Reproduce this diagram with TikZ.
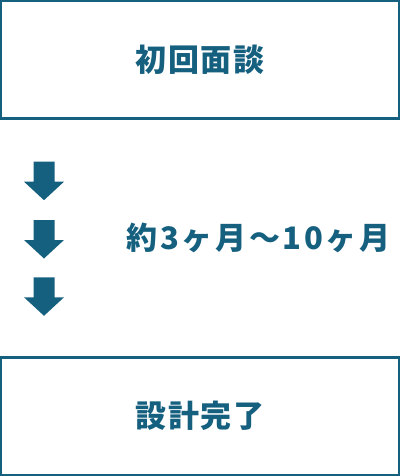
\documentclass[tikz,border=0pt]{standalone}
\usepackage{fontspec}
\newfontfamily\jp[LetterSpace=6]{Noto Sans CJK JP}
\newfontfamily\jpwide[LetterSpace=8.5]{Noto Sans CJK JP}
\definecolor{teal}{HTML}{16607F}
\begin{document}
\begin{tikzpicture}[x=1pt,y=-1pt,
  box/.style={draw=teal,line width=2.2pt,fill=white},
  lbl/.style={text=teal,font=\jp\bfseries\fontsize{31}{36}\selectfont,inner sep=0pt,anchor=center},
  widelbl/.style={lbl,font=\jpwide\bfseries\fontsize{31}{36}\selectfont},
  darrow/.style={fill=teal,draw=none}]
\useasboundingbox (0,0) rectangle (400,476);
\draw[box] (1.1,1.1) rectangle (398.9,118.5);
\node[lbl] (first) at (200,60) {初回面談};
\draw[box] (1.1,357.5) rectangle (398.9,474.9);
\node[lbl] (last) at (200,416) {設計完了};
\foreach \n/\y in {a1/161.7,a2/220,a3/277.3}{
  \fill[darrow] (33.5,\y) -- (54.5,\y) -- (54.5,\y+20) -- (64,\y+20) -- (44,\y+38.5) -- (24,\y+20) -- (33.5,\y+20) -- cycle;
}
\node[widelbl] (period) at (258.5,238) {約3ヶ月〜10ヶ月};
\end{tikzpicture}
\end{document}
